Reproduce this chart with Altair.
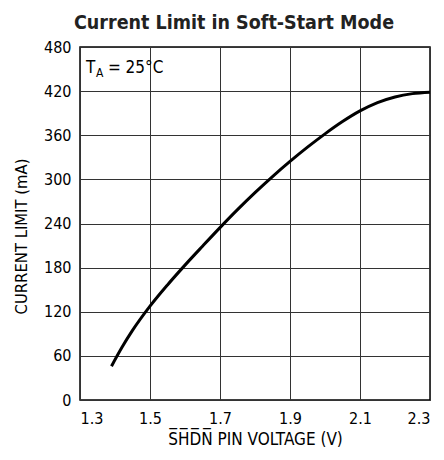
import altair as alt
import pandas as pd

voltage = [1.39, 1.42, 1.45, 1.5, 1.55, 1.6, 1.65, 1.7, 1.75, 1.8, 1.85, 1.9, 1.95,
           2.0, 2.05, 2.1, 2.15, 2.2, 2.25, 2.3]
current = [46, 71.7, 94.6, 127.6, 156.5, 183.4, 209.1, 234.4, 258.8, 281.9, 303.8, 324.4, 343.8,
           361.9, 378.6, 393.1, 404.4, 412.1, 416.6, 418.5]

x_ticks = [1.3, 1.5, 1.7, 1.9, 2.1, 2.3]
y_ticks = [0, 60, 120, 180, 240, 300, 360, 420, 480]

FONT = "DejaVu Sans Condensed, Liberation Sans, sans-serif"

df = pd.DataFrame({"v": voltage, "i": current})

xscale = alt.Scale(domain=[1.3, 2.3], nice=False, zero=False)
yscale = alt.Scale(domain=[0, 480], nice=False)

line = alt.Chart(df).mark_line(color="black", strokeWidth=3, interpolate="monotone").encode(
    x=alt.X("v:Q", scale=xscale,
            axis=alt.Axis(values=x_ticks, format=".1f",
                          title="S\u0305H\u0305D\u0305N\u0305 PIN VOLTAGE (V)",
                          grid=True, gridColor="#333", gridWidth=1, gridOpacity=1,
                          ticks=False, domain=False, labelPadding=10,
                          labelFont=FONT, labelFontSize=16, labelColor="black",
                          titleFont=FONT, titleFontSize=17, titleFontWeight="normal",
                          titleColor="black", titlePadding=5)),
    y=alt.Y("i:Q", scale=yscale,
            axis=alt.Axis(values=y_ticks, title="CURRENT LIMIT (mA)",
                          grid=True, gridColor="#333", gridWidth=1, gridOpacity=1,
                          ticks=False, domain=False, labelPadding=9,
                          labelFont=FONT, labelFontSize=16, labelColor="black",
                          titleFont=FONT, titleFontSize=16.5, titleFontWeight="normal",
                          titleColor="black", titlePadding=14, titleY=189)),
)

ann = pd.DataFrame({"v": [1.317], "i": [445]})
t1 = alt.Chart(ann).mark_text(text="T", align="left", baseline="alphabetic", font=FONT,
                              fontSize=17, color="black").encode(x="v:Q", y="i:Q")
t2 = alt.Chart(ann).mark_text(text="A", align="left", baseline="alphabetic", font=FONT,
                              fontSize=12, color="black", dx=10, dy=4).encode(x="v:Q", y="i:Q")
t3 = alt.Chart(ann).mark_text(text="= 25°C", align="left", baseline="alphabetic", font=FONT,
                              fontSize=17, color="black", dx=22).encode(x="v:Q", y="i:Q")

chart = alt.layer(line, t1, t2, t3).properties(
    width=350, height=353,
    title=alt.TitleParams("Current Limit in Soft-Start Mode", font=FONT, fontSize=19.5,
                          fontWeight="bold", color="#222", anchor="middle", offset=6, dx=-21),
    autosize=alt.AutoSizeParams(type="none"),
    padding={"left": 72, "top": 39, "right": 6, "bottom": 52},
).configure_view(stroke="black", strokeWidth=1.5)

chart.save("out.html", embed_options={"renderer": "svg", "actions": False})
